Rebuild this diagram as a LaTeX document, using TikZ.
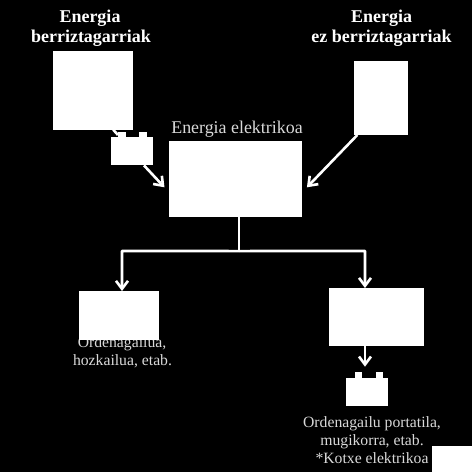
\documentclass[tikz,border=0pt]{standalone}
\usepackage{fontspec}
\setmainfont{Liberation Serif}
\usetikzlibrary{arrows.meta,calc}
\definecolor{txt}{gray}{0.85}
\tikzset{
  x=1pt,y=-1pt,
  box/.style={draw=none,fill=white,inner sep=0pt,outer sep=0pt,rectangle},
  link/.style={draw=white,line width=2.6pt,line join=round},
  arrowlink/.style={link,-{Straight Barb[length=8pt,width=12pt,line width=2.6pt]}},
  boldtext/.style={text=white,inner sep=0pt,anchor=base,font=\bfseries\fontsize{18}{20}\selectfont},
  plaintext/.style={text=txt,inner sep=0pt,anchor=base,font=\fontsize{17.9}{20}\selectfont},
  smalltext/.style={text=txt,inner sep=0pt,anchor=base,font=\fontsize{15.7}{18}\selectfont},
}
\begin{document}
\begin{tikzpicture}
\useasboundingbox[fill=black] (0,0) rectangle (472,472);
% labels
\node[boldtext] (t1) at (90,22) {Energia};
\node[boldtext] (t2) at (91,42) {berriztagarriak};
\node[boldtext] (t3) at (381.5,22) {Energia};
\node[boldtext] (t4) at (381.5,42) {ez berriztagarriak};
\node[plaintext] (t5) at (237,133) {Energia elektrikoa};
\node[smalltext] (t6) at (122,347.7) {Ordenagailua,};
\node[smalltext] (t7) at (122.5,365) {hozkailua, etab.};
\node[smalltext] (t8) at (372,427.7) {Ordenagailu portatila,};
\node[smalltext] (t9) at (372,445.7) {mugikorra, etab.};
\node[smalltext] (t10) at (372,463) {*Kotxe elektrikoa};
% boxes
\node[box,minimum width=79.4pt,minimum height=79pt] (ren) at (93,90.2) {};
\node[box,minimum width=53.7pt,minimum height=73.5pt] (non) at (381.2,98.2) {};
\node[box,minimum width=132.5pt,minimum height=76.5pt] (elec) at (235.7,178.8) {};
\node[box,minimum width=79.5pt,minimum height=49pt] (dev1) at (119.2,315.5) {};
\node[box,minimum width=94.4pt,minimum height=58.3pt] (dev2) at (376.5,317.2) {};
\node[box,minimum width=39.2pt,minimum height=26pt] (note) at (451.9,459) {};
% battery 1
\node[box,minimum width=42pt,minimum height=28.5pt] (bat1) at (131.5,151.2) {};
\node[box,minimum width=8pt,minimum height=6pt] (bat1a) at (122,135) {};
\node[box,minimum width=8pt,minimum height=6pt] (bat1b) at (143,135) {};
% battery 2
\node[box,minimum width=41.2pt,minimum height=28pt] (bat2) at (366.9,391.7) {};
\node[box,minimum width=7pt,minimum height=6pt] (bat2a) at (358,375) {};
\node[box,minimum width=7pt,minimum height=6pt] (bat2b) at (379,375) {};
% connectors
\coordinate (j) at ($(elec.south)+(3.3,34)$);
\coordinate (jl) at (122,251);
\coordinate (jr) at (365,251);
\coordinate (tipa) at ($(elec.west)+(-5,8.5)$);
\coordinate (tipb) at ($(elec.east)+(5,8.5)$);
\draw[link] (ren.south east)++(-19.5,0) -- (bat1a.west);
\draw[arrowlink] ($(bat1.south)+(12.5,0)$) -- (tipa);
\draw[arrowlink] ($(non.south west)+(3,0)$) -- (tipb);
\draw[link] ($(elec.south)+(3.3,0)$) -- (j);
\draw[arrowlink] (j) -- (jl) -- (dev1.north -| jl);
\draw[arrowlink] (j) -- (jr) -- (dev2.north -| jr);
\draw[arrowlink] (dev2.south -| jr) -- ($(bat2.north -| jr)+(0,-11)$);
\end{tikzpicture}
\end{document}
